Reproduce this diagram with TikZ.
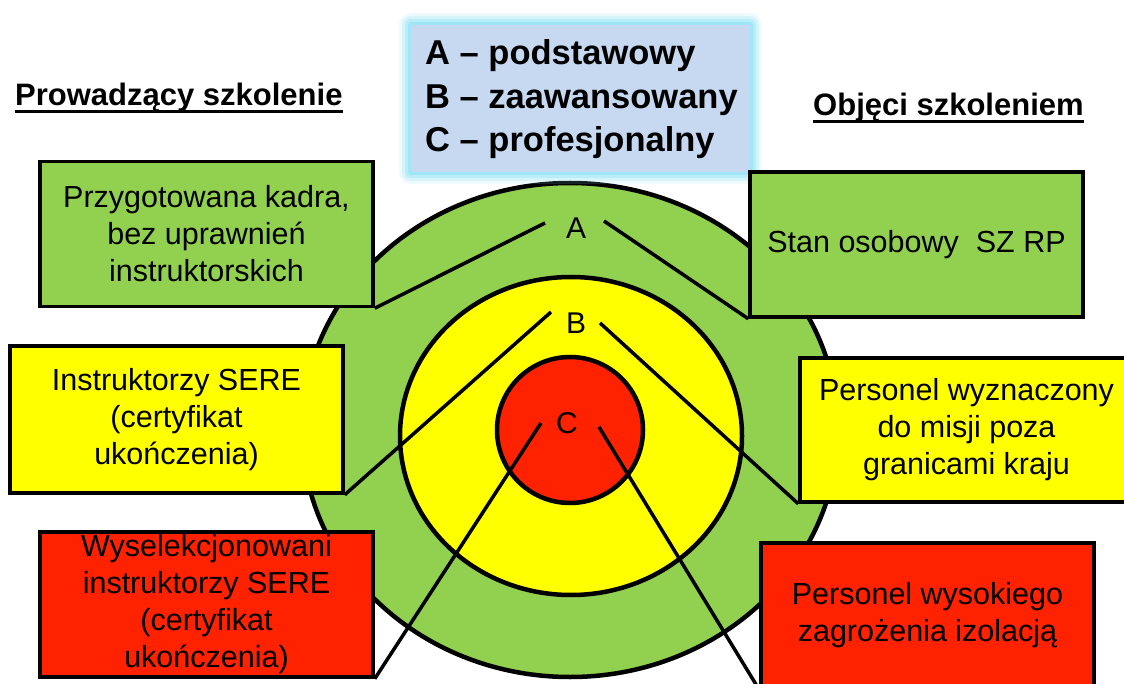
\documentclass[tikz,border=0pt]{standalone}
\usepackage{fontspec}
\setmainfont{Liberation Sans}
\definecolor{cgreen}{HTML}{92D050}
\definecolor{cyellow}{HTML}{FFFF00}
\definecolor{cred}{HTML}{FF2200}
\definecolor{clegend}{HTML}{C6D9F1}
\definecolor{cglow}{HTML}{8FE3F5}
\tikzset{
  ring/.style={draw=black, line width=4.5pt},
  box/.style={draw=black, line width=3.5pt, minimum width=333pt, minimum height=145pt,
    inner sep=0pt, align=center, font=\fontsize{30.5}{37}\selectfont},
  conn/.style={draw=black, line width=3.5pt},
  lbl/.style={inner sep=0pt, font=\fontsize{30}{34}\selectfont},
  legtxt/.style={inner sep=0pt, anchor=base west, font=\bfseries\fontsize{34.5}{40}\selectfont},
  hdr/.style={inner sep=0pt, anchor=base west, font=\bfseries\fontsize{31}{36}\selectfont},
  uline/.style={draw=black, line width=3pt}
}
\begin{document}
\begin{tikzpicture}[x=1pt,y=-1pt]
\clip (0,0) rectangle (1124,684);
\fill[white] (0,0) rectangle (1124,684);

% rings
\draw[ring, fill=cgreen] (570,430) ellipse [x radius=268pt, y radius=247pt];
\draw[ring, fill=cyellow] (571,436) ellipse [x radius=171pt, y radius=159pt];
\draw[ring, fill=cred] (570,430) circle [radius=73pt];

% legend with glow
\foreach \d/\o in {12/0.15, 9/0.25, 6/0.4, 3/0.6}
  \fill[cglow, opacity=\o, rounded corners=\d pt] (411-\d,25-\d) rectangle (750+\d,172+\d);
\node[fill=clegend, minimum width=339pt, minimum height=147pt, inner sep=0pt] (leg) at (580.5,98.5) {};
\node[legtxt] (l1) at (425,65) {A – podstawowy};
\node[legtxt] (l2) at (425,109) {B – zaawansowany};
\node[legtxt] (l3) at (425,152) {C – profesjonalny};

% headers
\node[hdr] (h1) at (15,106) {Prowadzący szkolenie};
\draw[uline] ([yshift=-6pt]h1.base west) -- ([yshift=-6pt]h1.base east);
\node[hdr] (h2) at (813,116) {Objęci szkoleniem};
\draw[uline] ([yshift=-6pt]h2.base west) -- ([yshift=-6pt]h2.base east);

% level labels
\node[lbl] (A) at (576,228) {A};
\node[lbl] (B) at (576,323) {B};
\node[lbl] (C) at (567,423) {C};

% boxes
\node[box, fill=cgreen] (gL) at (206.5,234) {Przygotowana kadra,\\bez uprawnień\\instruktorskich};
\node[box, fill=cyellow, minimum height=147pt] (yL) at (176.5,419.5) {Instruktorzy SERE\\(certyfikat\\ukończenia)};
\node[box, fill=cred] (rL) at (206.5,604.5) {Wyselekcjonowani\\instruktorzy SERE\\(certyfikat\\ukończenia)};
\node[box, fill=cgreen] (gR) at (916.5,244.5) {Stan osobowy\ \ SZ RP};
\node[box, fill=cyellow, minimum height=144pt] (yR) at (966.5,430) {Personel wyznaczony\\do misji poza\\granicami kraju};
\node[box, fill=cred] (rR) at (927.5,615.5) {Personel wysokiego\\zagrożenia izolacją};

% connector ends near labels
\coordinate (aL) at (545,223);
\coordinate (aR) at (604,221);
\coordinate (bL) at (551,312);
\coordinate (bR) at (600,323);
\coordinate (cL) at (541,423);
\coordinate (cR) at (599,427);

\draw[conn] (gL.south east) -- (aL);
\draw[conn] (gR.south west) -- (aR);
\draw[conn] (yL.south east) -- (bL);
\draw[conn] (yR.south west) -- (bR);
\draw[conn] (rL.south east) -- (cL);
\draw[conn] (rR.south west) -- (cR);
\end{tikzpicture}
\end{document}
